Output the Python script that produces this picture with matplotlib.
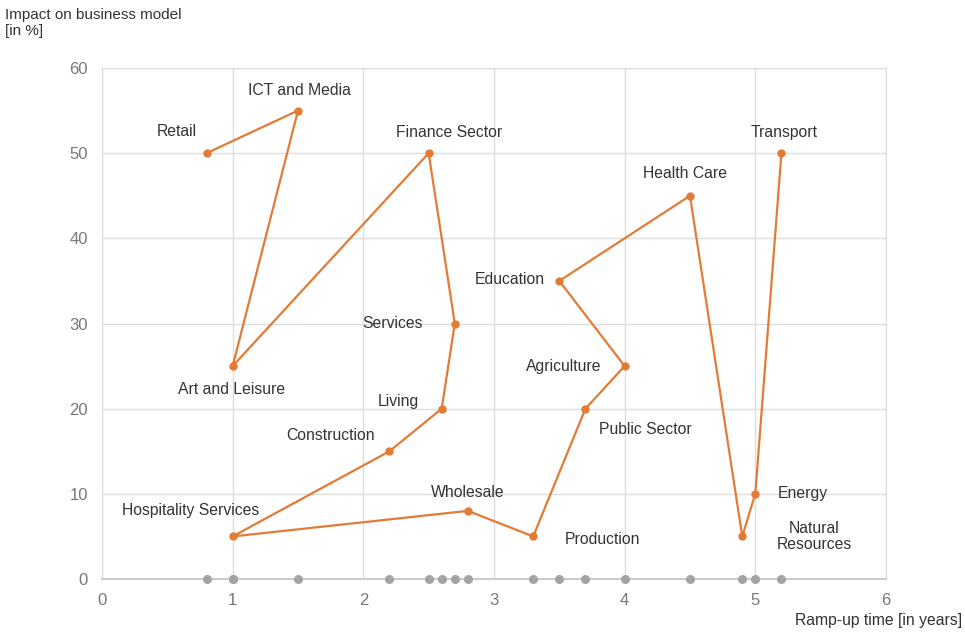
import matplotlib.pyplot as plt

plt.rcParams['font.family'] = ['Liberation Sans', 'DejaVu Sans']

# sectors in the order the line connects them
sectors = ['Retail', 'ICT and Media', 'Art and Leisure', 'Finance Sector', 'Services',
           'Living', 'Construction', 'Hospitality Services', 'Wholesale', 'Production',
           'Public Sector', 'Agriculture', 'Education', 'Health Care',
           'Natural\nResources', 'Energy', 'Transport']
ramp_up = [0.8, 1.5, 1.0, 2.5, 2.7, 2.6, 2.2, 1.0, 2.8, 3.3, 3.7, 4.0, 3.5, 4.5, 4.9, 5.0, 5.2]
impact = [50, 55, 25, 50, 30, 20, 15, 5, 8, 5, 20, 25, 35, 45, 5, 10, 50]

# label anchor positions (data coords)
label_x = [0.57, 1.51, 0.99, 2.66, 2.22, 2.27, 1.75, 0.68, 2.80, 3.83, 4.16, 3.53, 3.12, 4.46, 5.45, 5.36, 5.22]
label_y = [52.6, 57.4, 22.2, 52.4, 30.0, 20.8, 16.9, 8.0, 10.2, 4.6, 17.6, 25.0, 35.2, 47.6, 5.0, 10.0, 52.4]

orange = '#E37B36'
grey = '#A3A3A3'

fig = plt.figure(figsize=(9.65, 6.36), dpi=100)
ax = fig.add_axes([0.1057, 0.0896, 0.8124, 0.8035])

ax.plot(ramp_up, impact, color=orange, lw=1.6, marker='o', ms=5, zorder=3)
ax.scatter(ramp_up, [0] * len(ramp_up), color=grey, s=30, zorder=4, clip_on=False)

for name, lx, ly in zip(sectors, label_x, label_y):
    ax.text(lx, ly, name, ha='center', va='center', fontsize=11.3, color='#333333',
            linespacing=1.15)

ax.set_xlim(0, 6)
ax.set_ylim(0, 60)
ax.set_xticks(range(0, 7))
ax.set_yticks(range(0, 61, 10))
ax.grid(True, color='#DDDDDD', lw=1)
ax.set_axisbelow(True)
for s in ax.spines.values():
    s.set_color('#DDDDDD')
ax.spines['bottom'].set_color('#CCCCCC')
ax.spines['bottom'].set_linewidth(1.5)
ax.tick_params(length=0, labelsize=12, colors='#777777', pad=10)

fig.text(0.005, 0.988, 'Impact on business model\n[in %]', ha='left', va='top',
         fontsize=11, color='#333333', linespacing=1.2)
fig.text(0.997, 0.012, 'Ramp-up time [in years]', ha='right', va='bottom',
         fontsize=11.3, color='#333333')

fig.savefig('out.png', dpi=100)
